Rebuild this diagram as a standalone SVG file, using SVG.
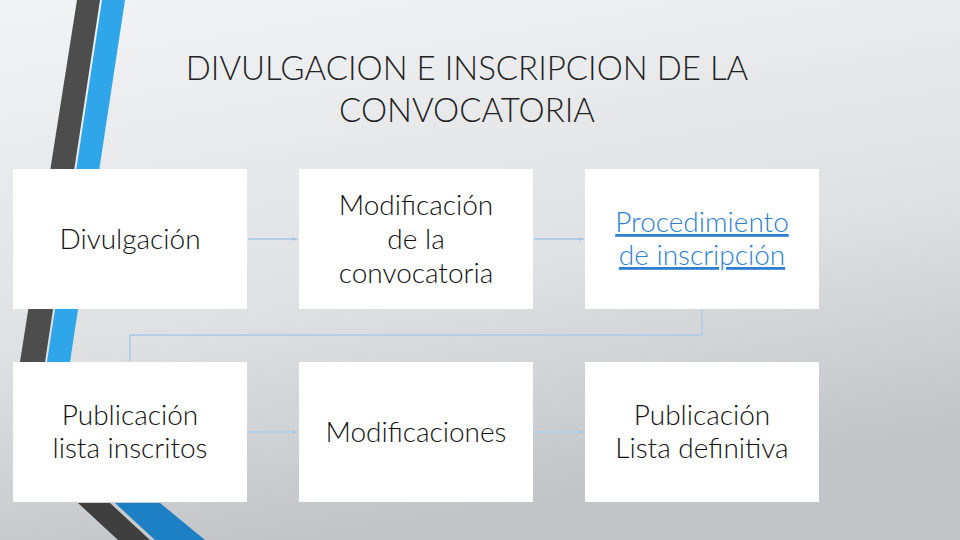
<svg xmlns="http://www.w3.org/2000/svg" width="960" height="540" viewBox="0 0 960 540">
<defs>
<linearGradient id="bg" x1="0" y1="0" x2="0.3" y2="1">
<stop offset="0" stop-color="#f2f3f4"/><stop offset="0.6" stop-color="#dfe1e3"/><stop offset="1" stop-color="#c2c5c8"/>
</linearGradient>
<marker id="ar" markerWidth="6" markerHeight="6" refX="5" refY="3" orient="auto" markerUnits="userSpaceOnUse"><path d="M0,1 L5,3 L0,5 Z" fill="#a9c6e6"/></marker>
</defs>
<style>
.box{fill:#fff}
.t{font-family:Lato,"Open Sans",sans-serif;font-weight:300;font-size:28px;fill:#111;text-anchor:middle}
.lnk{fill:#2f7fcf;text-decoration:underline}
.c{stroke:#b6cfe9;stroke-width:2;fill:none}
</style>
<rect width="960" height="540" fill="url(#bg)"/>
<polygon points="77,0 100,0 45,362 20,362" fill="#4d4d4d"/>
<polygon points="102,0 125,0 70,362 47,362" fill="#2ea6e9"/>
<polygon points="78,503 110,503 150,540 118,540" fill="#3f3f3f"/>
<polygon points="115,503 160,503 205,540 155,540" fill="#1d7fc4"/>
<text x="467" y="80" style="font-family:Lato,'Open Sans',sans-serif;font-weight:300;font-size:33px;fill:#222;text-anchor:middle">DIVULGACION E INSCRIPCION DE LA</text>
<text x="467" y="122" style="font-family:Lato,'Open Sans',sans-serif;font-weight:300;font-size:33px;fill:#222;text-anchor:middle">CONVOCATORIA</text>
<g id="connectors">
<line class="c" x1="248" y1="239" x2="297" y2="239" marker-end="url(#ar)"/>
<line class="c" x1="534" y1="239" x2="584" y2="239" marker-end="url(#ar)"/>
<polyline class="c" points="702,310 702,335 130,335 130,361"/>
<line class="c" x1="248" y1="432" x2="297" y2="432" marker-end="url(#ar)"/>
<line class="c" x1="534" y1="432" x2="584" y2="432" marker-end="url(#ar)"/>
</g>
<g id="n1"><rect class="box" x="13" y="169" width="234" height="140"/><text class="t" x="130" y="249">Divulgación</text></g>
<g id="n2"><rect class="box" x="299" y="169" width="234" height="140"/><text class="t" x="416" y="215">Modificación</text><text class="t" x="416" y="249">de la</text><text class="t" x="416" y="283">convocatoria</text></g>
<g id="n3"><rect class="box" x="585" y="169" width="234" height="140"/><text class="t lnk" x="702" y="232">Procedimiento</text><text class="t lnk" x="702" y="265">de inscripción</text></g>
<g id="n4"><rect class="box" x="13" y="362" width="234" height="140"/><text class="t" x="130" y="425">Publicación</text><text class="t" x="130" y="458">lista inscritos</text></g>
<g id="n5"><rect class="box" x="299" y="362" width="234" height="140"/><text class="t" x="416" y="442">Modificaciones</text></g>
<g id="n6"><rect class="box" x="585" y="362" width="234" height="140"/><text class="t" x="702" y="425">Publicación</text><text class="t" x="702" y="458">Lista definitiva</text></g>
</svg>
